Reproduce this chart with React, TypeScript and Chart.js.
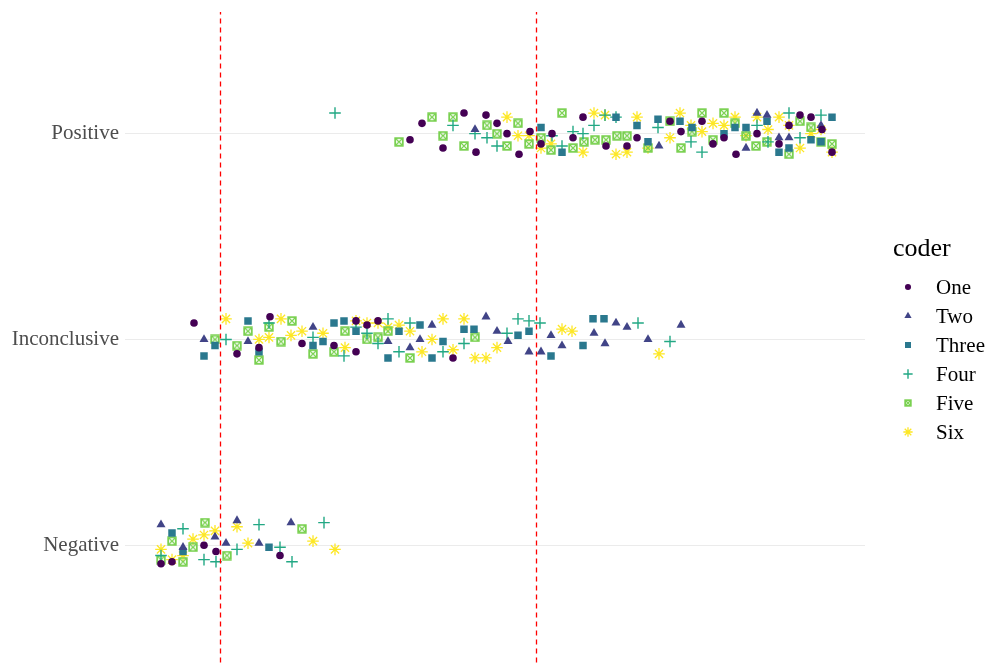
import React, { useEffect, useRef } from "react";
import { Chart, registerables, PointElement } from "chart.js";

Chart.register(...registerables);

// ---------- data ----------
const categories = ["Negative", "Inconclusive", "Positive"];
const categoryLevels = [1, 2, 3];
const coders = ["One", "Two", "Three", "Four", "Five", "Six"];
const thresholds = [9.55, 41.15];

const coderOne: [number, number][] = [
  [28.5, 2.97], [29.7, 3.05], [31.8, 2.93], [33.9, 3.1], [35.1, 2.91], [36.1, 3.09], [37.2, 3.05], [38.2, 3.0],
  [39.4, 2.9], [40.5, 3.01], [41.6, 2.95], [42.7, 3.0], [44.8, 2.98], [45.8, 3.08], [48.1, 2.94], [50.2, 2.94],
  [51.2, 2.98], [54.5, 3.06], [55.6, 3.01], [57.7, 3.06], [58.8, 2.95], [59.9, 2.98], [61.1, 2.9], [63.2, 3.0],
  [65.4, 2.95], [66.4, 3.04], [67.5, 3.09], [68.6, 3.08], [69.7, 3.02], [70.7, 2.91],
  [6.9, 2.08], [11.2, 1.93], [13.4, 1.96], [14.5, 2.11], [17.7, 1.98], [20.9, 1.97], [23.1, 2.09], [24.2, 2.07],
  [25.3, 2.09], [23.1, 1.94], [32.8, 1.91],
  [3.6, 0.91], [4.7, 0.92], [7.9, 1.0], [9.1, 0.97], [15.5, 0.95],
];

const coderTwo: [number, number][] = [
  [35.0, 3.02], [53.4, 2.94], [62.1, 2.93], [63.2, 3.1], [64.2, 3.09], [65.4, 2.98], [66.4, 2.98], [69.6, 3.04],
  [7.9, 2.0], [12.3, 1.99], [18.8, 2.06], [26.3, 1.99], [28.5, 1.96], [29.5, 2.0], [30.7, 2.07], [36.1, 2.11],
  [37.2, 2.04], [38.3, 1.99], [40.4, 1.94], [41.6, 1.94], [42.6, 2.02], [43.7, 1.97], [46.9, 2.03], [48.0, 1.98],
  [49.1, 2.08], [50.2, 2.06], [52.3, 2.0], [55.6, 2.07],
  [3.6, 1.1], [5.8, 0.99], [9.0, 1.04], [10.1, 1.01], [11.2, 1.12], [13.4, 1.01], [16.6, 1.11],
];

const coderThree: [number, number][] = [
  [41.6, 3.03], [43.7, 2.91], [49.1, 3.08], [51.2, 3.04], [52.3, 2.96], [53.3, 3.07], [55.5, 3.06], [56.7, 3.03],
  [59.9, 3.0], [61.0, 3.03], [62.1, 3.03], [64.2, 3.06], [65.4, 2.91], [66.4, 2.93], [68.6, 2.97], [69.6, 2.96],
  [70.7, 3.08],
  [7.9, 1.92], [9.0, 1.97], [12.3, 2.09], [13.4, 1.94], [18.8, 1.97], [19.8, 1.99], [20.9, 2.08], [21.9, 2.09],
  [23.1, 2.04], [26.3, 1.91], [27.4, 2.04], [29.5, 2.07], [30.7, 1.91], [31.8, 1.99], [33.9, 2.05], [34.9, 2.05],
  [39.3, 2.02], [40.4, 2.04], [42.6, 1.92], [45.8, 1.97], [46.8, 2.1], [47.9, 2.1],
  [4.7, 1.06], [5.8, 0.97], [14.4, 0.99],
];

const coderFour: [number, number][] = [
  [21.0, 3.1], [32.8, 3.04], [35.0, 3.0], [36.2, 2.98], [37.2, 2.94], [42.7, 2.99], [43.7, 2.94], [44.8, 3.01],
  [45.8, 3.0], [46.9, 3.04], [48.0, 3.09], [49.1, 3.08], [53.3, 3.03], [56.6, 2.96], [57.7, 2.91], [63.2, 3.04],
  [64.3, 2.96], [66.4, 3.1], [67.5, 2.98], [69.6, 3.09],
  [10.1, 2.0], [14.4, 2.08], [18.8, 2.01], [21.9, 1.92], [23.1, 2.06], [24.2, 2.03], [25.3, 1.98], [26.3, 2.1],
  [27.4, 1.94], [28.5, 2.08], [31.8, 1.94], [33.9, 1.98], [38.2, 2.03], [39.3, 2.1], [40.4, 2.09], [41.5, 2.08],
  [51.3, 2.08], [54.5, 1.99],
  [3.6, 0.95], [5.8, 1.08], [7.9, 0.93], [9.1, 0.92], [11.2, 0.98], [13.4, 1.1], [15.5, 0.99], [16.7, 0.92],
  [19.9, 1.11],
];

const coderFive: [number, number][] = [
  [27.4, 2.96], [30.7, 3.08], [31.8, 2.99], [32.8, 3.08], [33.9, 2.94], [36.2, 3.04], [37.2, 3.0], [38.2, 2.94],
  [39.3, 3.05], [40.4, 2.95], [41.6, 2.98], [42.6, 2.92], [43.7, 3.1], [44.8, 2.93], [45.9, 2.96], [47.0, 2.97],
  [48.1, 2.97], [49.2, 2.99], [50.2, 2.99], [52.3, 2.93], [54.5, 3.06], [55.6, 2.93], [56.7, 3.01], [57.7, 3.1],
  [58.8, 2.97], [59.9, 3.1], [61.0, 3.05], [62.1, 2.99], [63.1, 2.94], [64.2, 2.96], [66.4, 2.9], [67.5, 3.06],
  [68.6, 3.03], [69.6, 2.96], [70.7, 2.95],
  [9.0, 2.0], [11.2, 1.97], [12.3, 2.04], [13.4, 1.9], [14.4, 2.06], [15.6, 1.99], [16.7, 2.09], [18.8, 1.93],
  [20.9, 1.94], [22.0, 2.04], [24.2, 2.0], [25.3, 2.01], [26.3, 2.04], [28.5, 1.91], [35.0, 2.01],
  [3.6, 0.93], [4.7, 1.02], [5.8, 0.92], [6.8, 0.99], [8.0, 1.11], [10.2, 0.95], [17.7, 1.08],
];

const coderSix: [number, number][] = [
  [38.2, 3.08], [39.3, 2.99], [40.4, 2.99], [41.6, 2.93], [42.6, 2.95], [45.8, 2.91], [46.9, 3.1], [48.0, 3.09],
  [49.1, 2.9], [50.2, 2.91], [51.2, 3.08], [52.3, 2.93], [54.5, 2.98], [55.5, 3.1], [56.6, 3.04], [57.7, 3.01],
  [58.8, 3.05], [59.9, 3.04], [61.0, 3.08], [62.1, 2.99], [63.2, 3.08], [64.3, 3.02], [65.4, 3.08], [66.4, 3.04],
  [67.5, 2.93], [68.6, 3.0], [69.6, 3.02], [70.7, 2.91],
  [10.1, 2.1], [13.4, 2.0], [14.4, 2.01], [15.6, 2.1], [16.6, 2.02], [17.7, 2.04], [19.8, 2.03], [22.0, 1.96],
  [23.1, 2.09], [24.2, 2.08], [25.3, 2.08], [26.3, 2.06], [27.4, 2.07], [28.5, 2.04], [29.7, 1.94], [30.7, 2.0],
  [31.8, 2.1], [32.8, 1.95], [33.9, 2.1], [35.0, 1.91], [36.1, 1.91], [37.2, 1.96], [43.7, 2.05], [44.7, 2.04],
  [53.4, 1.93],
  [3.6, 0.98], [4.7, 0.93], [5.8, 0.95], [6.8, 1.03], [7.9, 1.05], [9.0, 1.07], [11.2, 1.09], [12.3, 1.01],
  [18.8, 1.02], [21.0, 0.98],
];

const coderSeries = [coderOne, coderTwo, coderThree, coderFour, coderFive, coderSix];

// ---------- styles ----------
const FONT = "'Liberation Serif', 'Times New Roman', serif";
const colors = ["#440154", "#414487", "#2A788E", "#22A884", "#7AD151", "#FDE725"];
const X_MIN = 0;
const X_MAX = 74;
const Y_MIN = 0.458;
const Y_MAX = 3.591;
const LINE_BOTTOM = 0.43;

function makeBoxCross(color: string, size: number) {
  const c = document.createElement("canvas");
  c.width = size;
  c.height = size;
  const g = c.getContext("2d")!;
  g.strokeStyle = color;
  g.lineWidth = 1.8;
  g.strokeRect(1.2, 1.2, size - 2.4, size - 2.4);
  g.lineWidth = 1.2;
  g.beginPath();
  g.moveTo(1.5, 1.5);
  g.lineTo(size - 1.5, size - 1.5);
  g.moveTo(size - 1.5, 1.5);
  g.lineTo(1.5, size - 1.5);
  g.stroke();
  return c;
}

function markerStyles(scale: number) {
  const boxCross = makeBoxCross(colors[4], Math.round(10 * scale));
  return [
    { pointStyle: "circle", radius: 3.8 * scale, borderWidth: 0 },
    { pointStyle: "triangle", radius: 5.2 * scale, borderWidth: 0 },
    { pointStyle: "rect", radius: 5.3 * scale, borderWidth: 0 },
    { pointStyle: "cross", radius: 5.8 * scale, borderWidth: 1.4 },
    { pointStyle: boxCross, radius: 5 * scale, borderWidth: 0 },
    { pointStyle: "star", radius: 5.8 * scale, borderWidth: 1.3 },
  ];
}

const legendPlugin = {
  id: "coderLegend",
  afterDraw(chart: any) {
    const { ctx, chartArea } = chart;
    const x0 = chartArea.right + 28;
    const top = chartArea.top;
    const rowH = 29;
    const styles = markerStyles(0.8);
    ctx.save();
    ctx.textBaseline = "middle";
    ctx.textAlign = "left";
    ctx.fillStyle = "#000000";
    ctx.font = `26px ${FONT}`;
    ctx.fillText("coder", x0, top + 237);
    coders.forEach((name, i) => {
      const y = top + 275 + i * rowH;
      const s = styles[i];
      const pt: any = new PointElement({});
      pt.x = x0 + 15;
      pt.y = y;
      pt.options = {
        pointStyle: s.pointStyle,
        radius: s.radius,
        rotation: 0,
        borderWidth: s.borderWidth,
        backgroundColor: colors[i],
        borderColor: colors[i],
      };
      pt.draw(ctx);
      ctx.font = `21px ${FONT}`;
      ctx.fillStyle = "#000000";
      ctx.fillText(name, x0 + 43, y + 1);
    });
    ctx.restore();
  },
};

export default function App() {
  const ref = useRef<HTMLCanvasElement>(null);

  useEffect(() => {
    if (!ref.current) return;
    const styles = markerStyles(1);
    const pointSets = coderSeries.map((d, i) => ({
      label: coders[i],
      data: d.map(([x, y]) => ({ x, y })),
      pointStyle: styles[i].pointStyle as any,
      pointRadius: styles[i].radius,
      pointHoverRadius: styles[i].radius,
      pointBorderWidth: styles[i].borderWidth,
      borderWidth: styles[i].borderWidth,
      backgroundColor: colors[i],
      borderColor: colors[i],
      showLine: false,
    }));
    const lineSets = thresholds.map((t) => ({
      label: "threshold",
      data: [
        { x: t, y: LINE_BOTTOM },
        { x: t, y: Y_MAX },
      ],
      showLine: true,
      clip: false,
      borderColor: "#FF0000",
      borderWidth: 1.3,
      borderDash: [5, 4],
      pointRadius: 0,
      pointHoverRadius: 0,
      order: -1,
    }));

    const chart = new Chart(ref.current, {
      type: "scatter",
      data: { datasets: [...pointSets, ...lineSets] as any },
      options: {
        responsive: false,
        animation: false,
        events: [],
        layout: { padding: { left: 0, right: 121, top: 12, bottom: 0 } },
        plugins: {
          legend: { display: false },
          tooltip: { enabled: false },
        },
        scales: {
          x: { type: "linear", min: X_MIN, max: X_MAX, display: false },
          y: {
            type: "linear",
            min: Y_MIN,
            max: Y_MAX,
            afterFit: (s: any) => {
              s.width = 125;
              s.paddingTop = 0;
              s.paddingBottom = 0;
            },
            afterBuildTicks: (s: any) => {
              s.ticks = categoryLevels.map((v) => ({ value: v }));
            },
            ticks: {
              callback: (v: any) => categories[categoryLevels.indexOf(Number(v))],
              color: "#4D4D4D",
              font: { family: FONT, size: 21 },
              padding: 6,
            },
            grid: { color: "#EBEBEB", lineWidth: 1.1, drawTicks: false },
            border: { display: false },
          },
        },
      } as any,
      plugins: [legendPlugin],
    });
    return () => chart.destroy();
  }, []);

  return (
    <div style={{ position: "fixed", left: 0, top: 0, width: 986, height: 664, background: "#ffffff" }}>
      <canvas ref={ref} width={986} height={664} style={{ display: "block" }} />
    </div>
  );
}
